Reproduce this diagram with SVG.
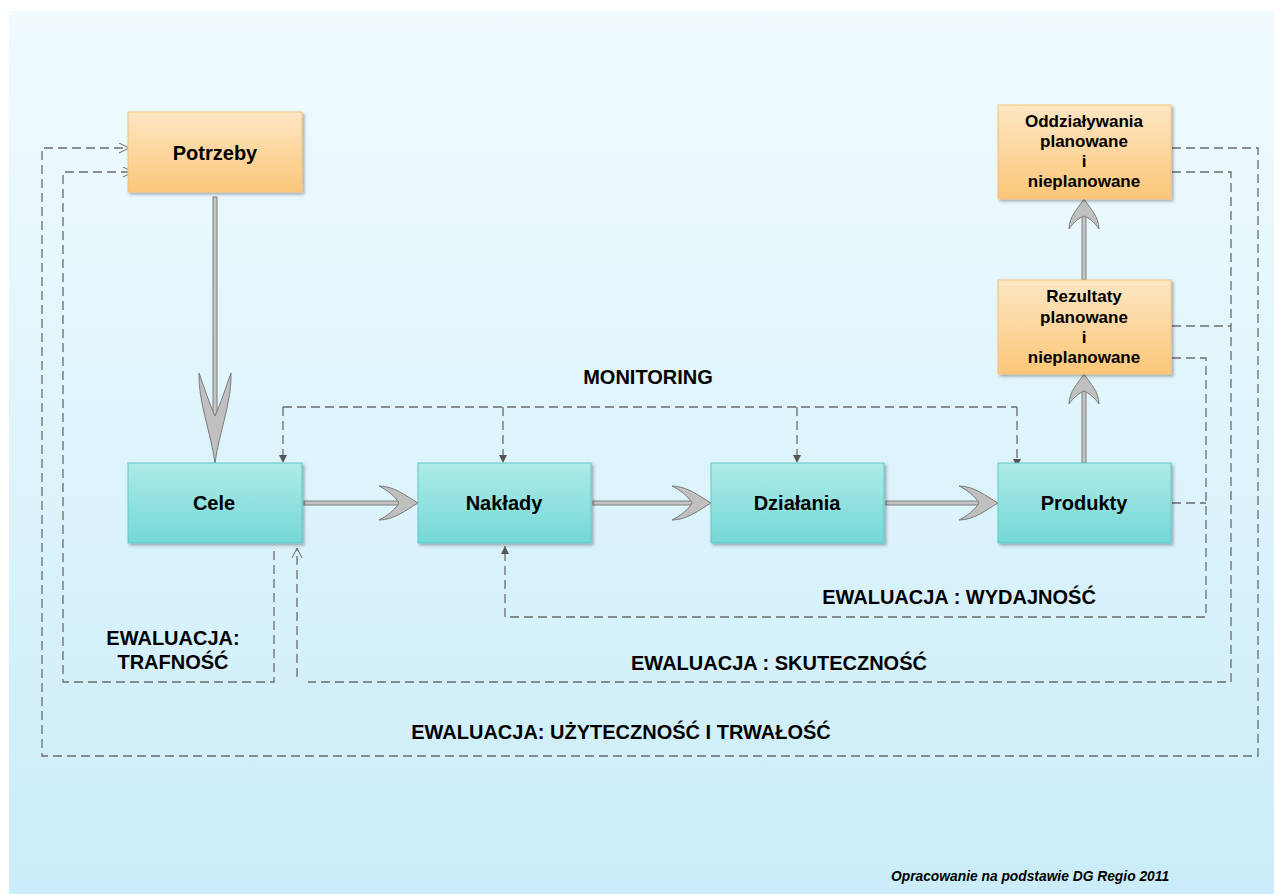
<svg xmlns="http://www.w3.org/2000/svg" width="1274" height="894" viewBox="0 0 1274 894">
<defs>
<linearGradient id="bg" x1="0" y1="0" x2="0" y2="1">
<stop offset="0" stop-color="#f1fbfe"/>
<stop offset="1" stop-color="#caedf9"/>
</linearGradient>
<linearGradient id="gOrange" x1="0" y1="0" x2="0" y2="1">
<stop offset="0" stop-color="#fde6c3"/>
<stop offset="1" stop-color="#fbc778"/>
</linearGradient>
<linearGradient id="gTeal" x1="0" y1="0" x2="0" y2="1">
<stop offset="0" stop-color="#afebe8"/>
<stop offset="1" stop-color="#73d8d7"/>
</linearGradient>
<filter id="sh" x="-10%" y="-10%" width="125%" height="130%">
<feDropShadow dx="2" dy="2" stdDeviation="1.5" flood-color="#000" flood-opacity="0.3"/>
</filter>
<marker id="mFill" markerUnits="userSpaceOnUse" markerWidth="9" markerHeight="9" refX="8" refY="4" orient="auto">
<path d="M0,0 L8,4 L0,8 z" fill="#555"/>
</marker>
<marker id="mOpen" markerUnits="userSpaceOnUse" markerWidth="12" markerHeight="12" refX="10.5" refY="5.5" orient="auto">
<path d="M0.5,0.5 L10.5,5.5 L0.5,10.5" fill="none" stroke="#666" stroke-width="1"/>
</marker>
<path id="headS" d="M0,0 C-12,-7 -24,-17 -39,-17 C-31,-13 -23,-7 -19,0 C-23,7 -31,13 -39,17 C-24,17 -12,7 0,0 Z"/>
<path id="headU" d="M0,0 C-9,-6 -18,-15 -30,-15 C-24,-11 -19,-5 -17,0 C-19,5 -24,11 -30,15 C-18,15 -9,6 0,0 Z"/>
<path id="headL" d="M0,0 C-30,-4 -62,-17 -90,-16 C-76,-11 -58,-5 -47,0 C-58,5 -76,11 -90,16 C-62,17 -30,4 0,0 Z"/>
</defs>
<style>
.box{stroke-width:1;filter:url(#sh)}
.or{fill:url(#gOrange);stroke:#f2c27e}
.te{fill:url(#gTeal);stroke:#5cc9c7}
.lbl{font-family:"Liberation Sans",Arial,sans-serif;font-weight:bold;fill:#000;text-anchor:middle}
.big{font-size:20px}
.sm{font-size:17px}
.dash{fill:none;stroke:#6b6b6b;stroke-width:1.3;stroke-dasharray:9 5}
.shaft{fill:#c3c3c3;stroke:#808080;stroke-width:1}
.head{fill:#c0c0c0;stroke:#7a7a7a;stroke-width:1}
.ev{font-family:"Liberation Sans",Arial,sans-serif;font-weight:bold;font-size:20px;fill:#000;text-anchor:middle}
</style>
<rect x="0" y="0" width="1274" height="894" fill="#ffffff"/>
<rect x="9" y="11" width="1265" height="883" fill="url(#bg)"/>

<g id="connectors">
<rect class="shaft" x="213" y="197" width="4" height="220"/>
<use href="#headL" class="head" transform="translate(215,463) rotate(90)"/>
<rect class="shaft" x="304" y="501" width="97" height="4"/>
<use href="#headS" class="head" transform="translate(418,503)"/>
<rect class="shaft" x="593" y="501" width="101" height="4"/>
<use href="#headS" class="head" transform="translate(711,503)"/>
<rect class="shaft" x="886" y="501" width="96" height="4"/>
<use href="#headS" class="head" transform="translate(998,503)"/>
<rect class="shaft" x="1082" y="388" width="4" height="75"/>
<use href="#headU" class="head" transform="translate(1084,374) rotate(-90)"/>
<rect class="shaft" x="1082" y="213" width="4" height="67"/>
<use href="#headU" class="head" transform="translate(1084,199) rotate(-90)"/>

<path class="dash" d="M283,407 H1017"/>
<path class="dash" d="M283,407 V463" marker-end="url(#mFill)"/>
<path class="dash" d="M503,407 V463" marker-end="url(#mFill)"/>
<path class="dash" d="M797,407 V463" marker-end="url(#mFill)"/>
<path class="dash" d="M1017,407 V467" marker-end="url(#mFill)"/>

<path class="dash" d="M1172,358 H1206 V617 H505 V546" marker-end="url(#mFill)"/>
<path class="dash" d="M1172,503 H1206"/>

<path class="dash" d="M1172,172 H1231 V682 H308"/>
<path class="dash" d="M297,677 V548" marker-end="url(#mOpen)"/>
<path class="dash" d="M1172,326 H1231"/>

<path class="dash" d="M274,551 V682 H63 V172 H133" marker-end="url(#mOpen)"/>

<path class="dash" d="M1172,148 H1258 V756 H42 V148 H129" marker-end="url(#mOpen)"/>
</g>

<g id="potrzeby">
<rect class="box or" x="128" y="112" width="174" height="80"/>
<text class="lbl big" x="215" y="160">Potrzeby</text>
</g>
<g id="cele">
<rect class="box te" x="128" y="463" width="174" height="80"/>
<text class="lbl big" x="214" y="510">Cele</text>
</g>
<g id="naklady">
<rect class="box te" x="418" y="463" width="173" height="80"/>
<text class="lbl big" x="504" y="510">Nakłady</text>
</g>
<g id="dzialania">
<rect class="box te" x="711" y="463" width="173" height="80"/>
<text class="lbl big" x="797" y="510">Działania</text>
</g>
<g id="produkty">
<rect class="box te" x="998" y="463" width="173" height="80"/>
<text class="lbl big" x="1084" y="510">Produkty</text>
</g>
<g id="rezultaty">
<rect class="box or" x="998" y="280" width="173" height="94"/>
<text class="lbl sm" x="1084" y="302">Rezultaty</text>
<text class="lbl sm" x="1084" y="323">planowane</text>
<text class="lbl sm" x="1084" y="343">i</text>
<text class="lbl sm" x="1084" y="363">nieplanowane</text>
</g>
<g id="oddzialywania">
<rect class="box or" x="998" y="105" width="173" height="94"/>
<text class="lbl sm" x="1084" y="127">Oddziaływania</text>
<text class="lbl sm" x="1084" y="147">planowane</text>
<text class="lbl sm" x="1084" y="167">i</text>
<text class="lbl sm" x="1084" y="187">nieplanowane</text>
</g>

<g id="labels">
<text class="ev" x="648" y="384">MONITORING</text>
<text class="ev" x="959" y="604">EWALUACJA : WYDAJNOŚĆ</text>
<text class="ev" x="779" y="670">EWALUACJA : SKUTECZNOŚĆ</text>
<text class="ev" x="621" y="739">EWALUACJA: UŻYTECZNOŚĆ I TRWAŁOŚĆ</text>
<text class="ev" x="173" y="645">EWALUACJA:</text>
<text class="ev" x="173" y="669">TRAFNOŚĆ</text>
<text x="891" y="881" font-family="Liberation Sans, Arial, sans-serif" font-size="13.8" font-weight="bold" font-style="italic" fill="#000">Opracowanie na podstawie DG Regio 2011</text>
</g>
</svg>
